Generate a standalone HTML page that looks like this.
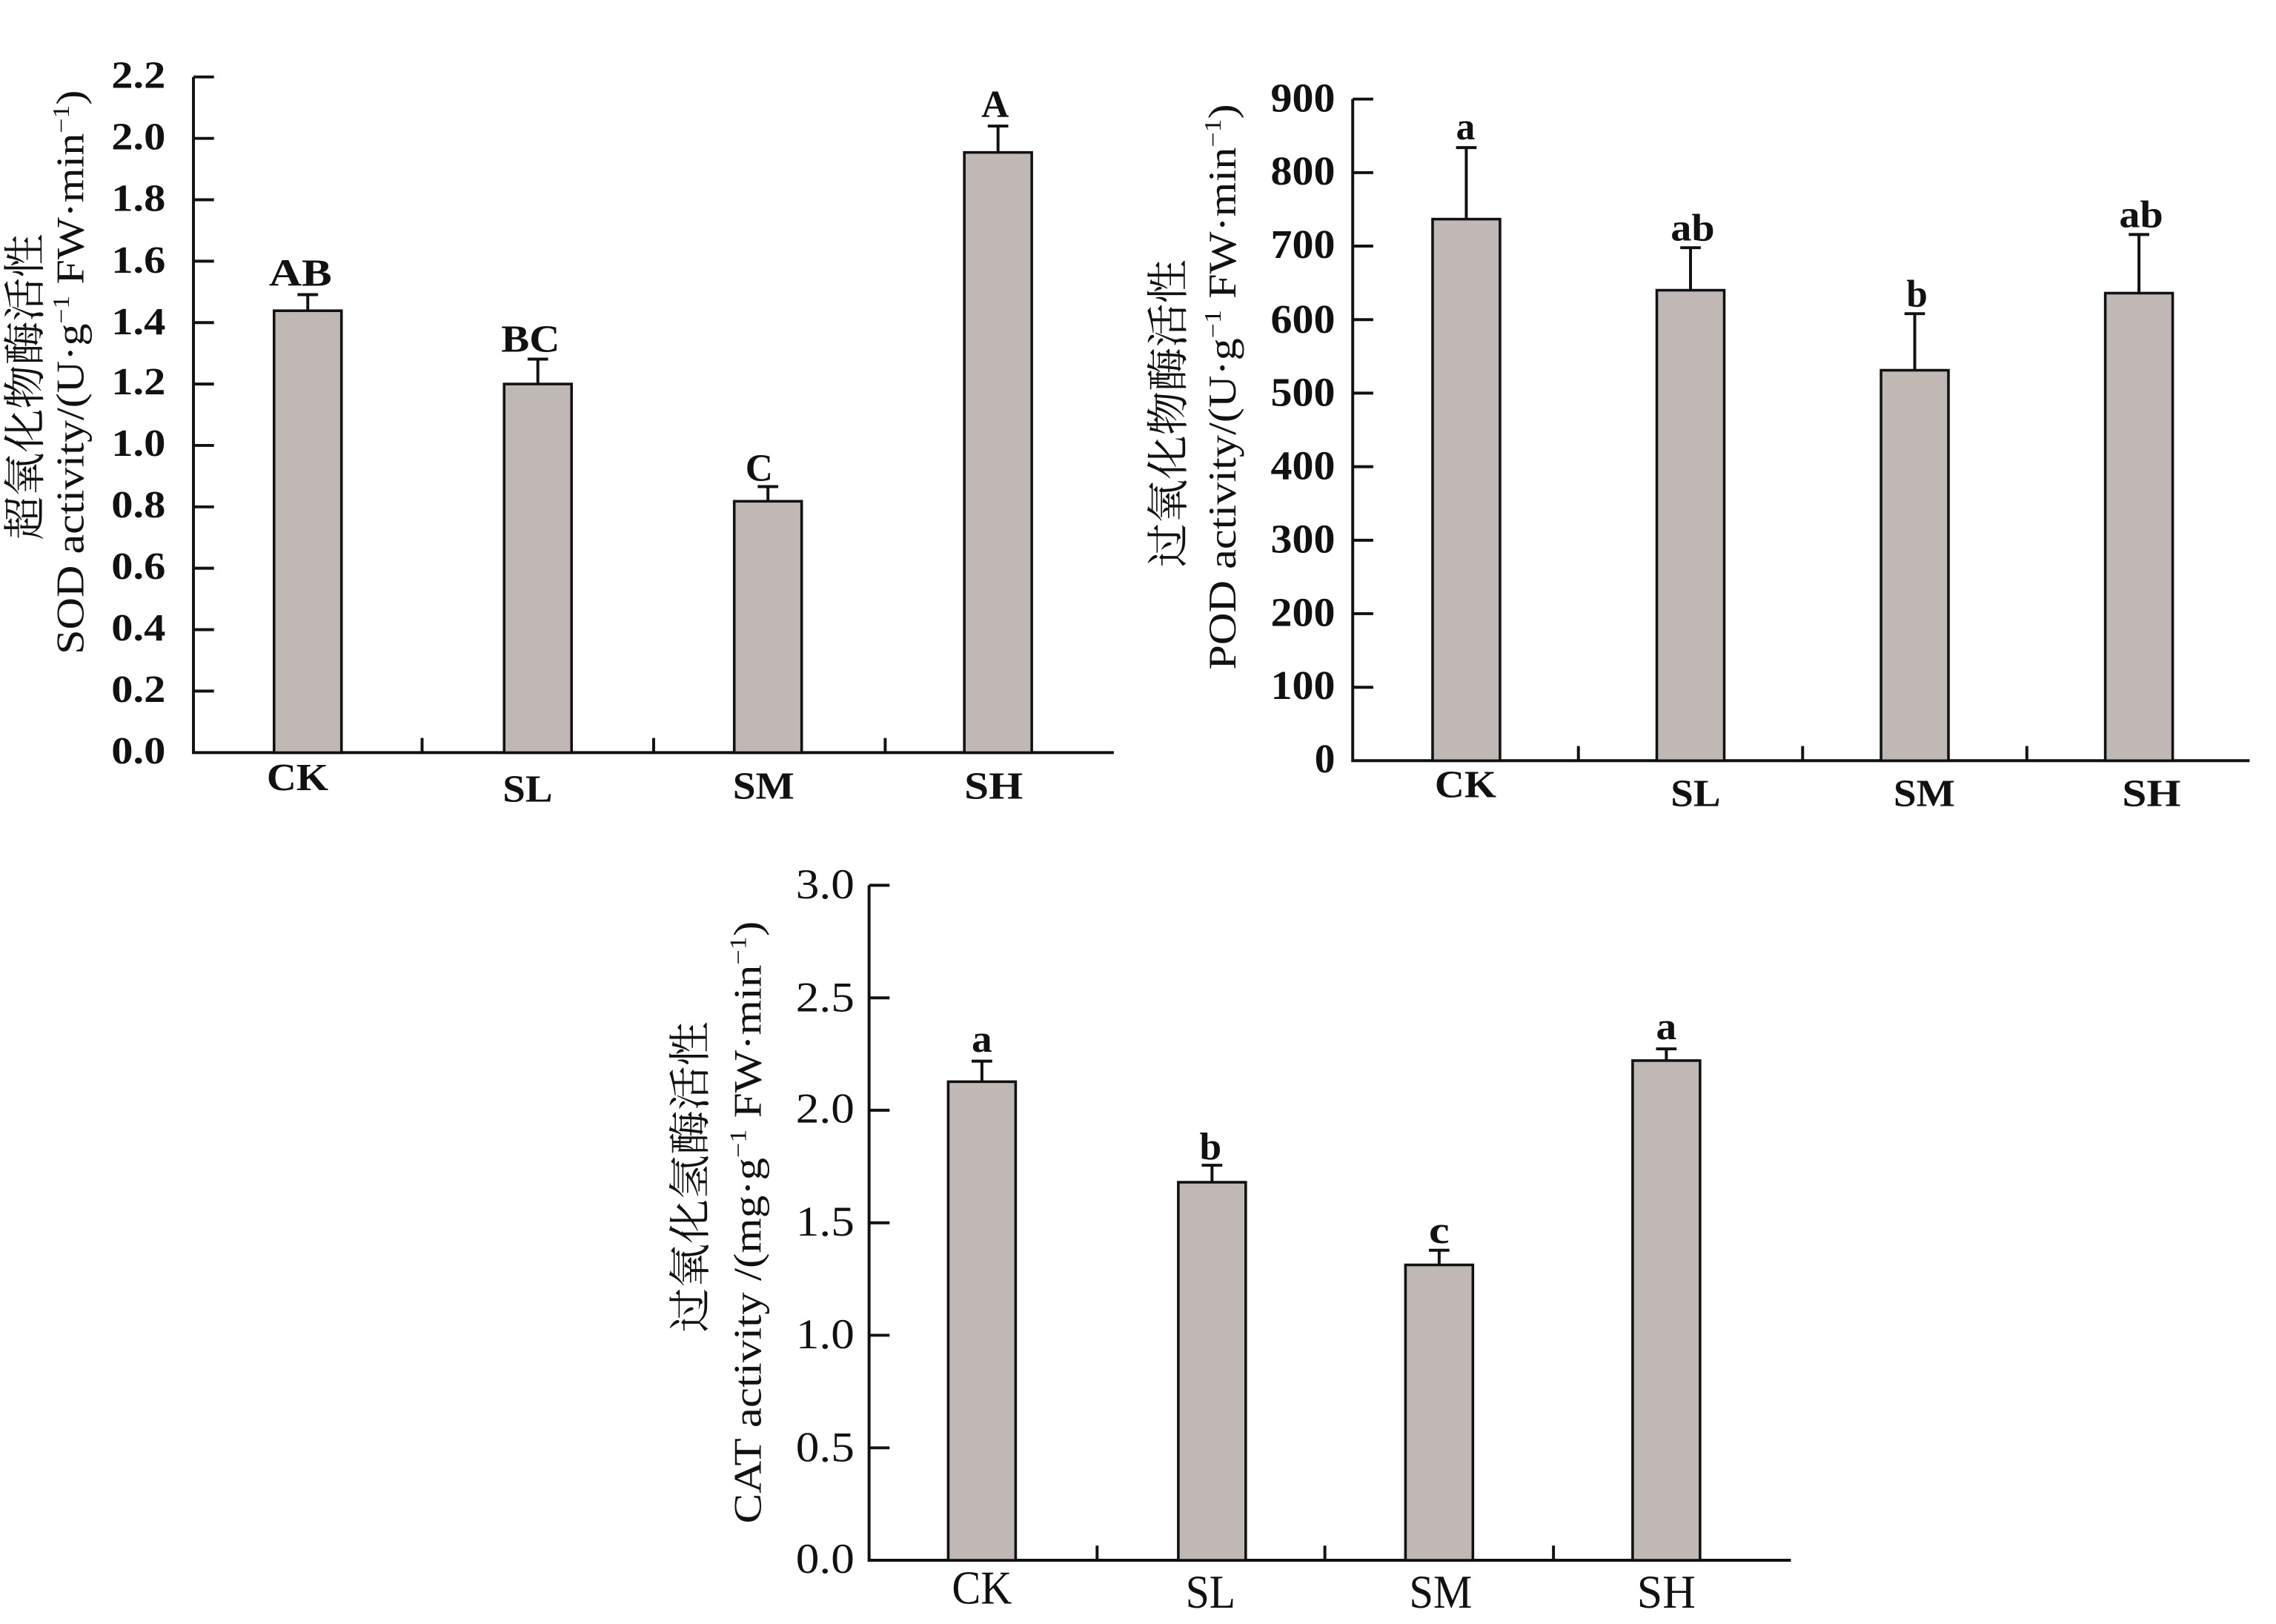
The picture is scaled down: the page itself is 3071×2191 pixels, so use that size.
<!DOCTYPE html>
<html><head><meta charset="utf-8"><style>
html,body{margin:0;padding:0;background:#fff;width:3071px;height:2191px;overflow:hidden}
svg{display:block}
.t{font-family:"Liberation Serif","Noto Serif CJK SC",serif;font-weight:bold;font-size:26px;fill:#111}
.n{font-family:"Liberation Serif","Noto Serif CJK SC",serif;font-weight:normal;font-size:29px;fill:#111}
.cj{font-family:"Noto Serif CJK SC","Liberation Serif",serif;font-size:29px;fill:#111}
.l{font-family:"Liberation Serif","Noto Serif CJK SC",serif;font-size:27px;fill:#111}
.ax{stroke:#111;stroke-width:2;fill:none}
.bar{fill:#c0b8b4;stroke:#111;stroke-width:1.8}
</style></head><body>
<svg width="3071" height="2191" viewBox="0 0 1553 1108" preserveAspectRatio="none">
<!-- Chart 1 SOD -->
<g>
<path class="ax" d="M132,52.5 V513.5 H760"/>
<g class="ax">
<path d="M132,52.5h14M132,94.4h14M132,136.3h14M132,178.2h14M132,220.1h14M132,262h14M132,303.9h14M132,345.8h14M132,387.7h14M132,429.6h14M132,471.5h14"/>
<path d="M210,513.5v-10M288,513.5v-10M367,513.5v-10M446,513.5v-10M524,513.5v-10M604,513.5v-10M681,513.5v-10"/>
</g>
<g class="t" text-anchor="end">
<text x="113" y="60" textLength="37" lengthAdjust="spacingAndGlyphs">2.2</text>
<text x="113" y="102" textLength="37" lengthAdjust="spacingAndGlyphs">2.0</text>
<text x="113" y="144" textLength="37" lengthAdjust="spacingAndGlyphs">1.8</text>
<text x="113" y="186" textLength="37" lengthAdjust="spacingAndGlyphs">1.6</text>
<text x="113" y="228" textLength="37" lengthAdjust="spacingAndGlyphs">1.4</text>
<text x="113" y="269" textLength="37" lengthAdjust="spacingAndGlyphs">1.2</text>
<text x="113" y="311" textLength="37" lengthAdjust="spacingAndGlyphs">1.0</text>
<text x="113" y="353" textLength="37" lengthAdjust="spacingAndGlyphs">0.8</text>
<text x="113" y="395" textLength="37" lengthAdjust="spacingAndGlyphs">0.6</text>
<text x="113" y="437" textLength="37" lengthAdjust="spacingAndGlyphs">0.4</text>
<text x="113" y="479" textLength="37" lengthAdjust="spacingAndGlyphs">0.2</text>
<text x="113" y="521" textLength="37" lengthAdjust="spacingAndGlyphs">0.0</text>
</g>
<rect class="bar" x="187" y="212" width="46" height="301.5"/>
<rect class="bar" x="344" y="262" width="46" height="251.5"/>
<rect class="bar" x="501" y="342" width="46" height="171.5"/>
<rect class="bar" x="658" y="104" width="46" height="409.5"/>
<g class="ax">
<path d="M210,212V201M203,201h14M367,262V245M360,245h14M524,342V332M517,332h14M681,104V86M674,86h14"/>
</g>
<g class="t" text-anchor="middle">
<text x="205" y="195" textLength="43" lengthAdjust="spacingAndGlyphs">AB</text>
<text x="362" y="240" textLength="40" lengthAdjust="spacingAndGlyphs">BC</text>
<text x="518" y="328">C</text>
<text x="679" y="80">A</text>
<text x="203" y="539" textLength="42" lengthAdjust="spacingAndGlyphs">CK</text>
<text x="360" y="547" textLength="34" lengthAdjust="spacingAndGlyphs">SL</text>
<text x="521" y="545" textLength="42" lengthAdjust="spacingAndGlyphs">SM</text>
<text x="678" y="545" textLength="40" lengthAdjust="spacingAndGlyphs">SH</text>
</g>
<text class="cj" transform="translate(27,264) rotate(-90)" text-anchor="middle" textLength="209" lengthAdjust="spacingAndGlyphs">超氧化物酶活性</text>
<text class="l" transform="translate(57,254) rotate(-90)" text-anchor="middle" textLength="385" lengthAdjust="spacingAndGlyphs">SOD activity/(U·g<tspan dy="-10" font-size="16">−1</tspan><tspan dy="10"> FW·min</tspan><tspan dy="-10" font-size="16">−1</tspan><tspan dy="10">)</tspan></text>
</g>
<!-- Chart 2 POD -->
<g>
<path class="ax" d="M923,67.6 V519 H1535"/>
<g class="ax">
<path d="M923,67.6h14M923,117.8h14M923,167.9h14M923,218.1h14M923,268.2h14M923,318.4h14M923,368.6h14M923,418.7h14M923,468.9h14"/>
<path d="M1000.5,519v-10M1077,519v-10M1153.5,519v-10M1230,519v-10M1306.5,519v-10M1383,519v-10M1459.5,519v-10"/>
</g>
<g class="t" text-anchor="end" style="font-size:28px">
<text x="911" y="76" textLength="44" lengthAdjust="spacingAndGlyphs">900</text>
<text x="911" y="126" textLength="44" lengthAdjust="spacingAndGlyphs">800</text>
<text x="911" y="176" textLength="44" lengthAdjust="spacingAndGlyphs">700</text>
<text x="911" y="227" textLength="44" lengthAdjust="spacingAndGlyphs">600</text>
<text x="911" y="277" textLength="44" lengthAdjust="spacingAndGlyphs">500</text>
<text x="911" y="327" textLength="44" lengthAdjust="spacingAndGlyphs">400</text>
<text x="911" y="377" textLength="44" lengthAdjust="spacingAndGlyphs">300</text>
<text x="911" y="427" textLength="44" lengthAdjust="spacingAndGlyphs">200</text>
<text x="911" y="477" textLength="44" lengthAdjust="spacingAndGlyphs">100</text>
<text x="911" y="527">0</text>
</g>
<rect class="bar" x="977.5" y="149.5" width="46" height="369.5"/>
<rect class="bar" x="1130.5" y="198" width="46" height="321"/>
<rect class="bar" x="1283.5" y="252.6" width="46" height="266.4"/>
<rect class="bar" x="1436.5" y="200" width="46" height="319"/>
<g class="ax">
<path d="M1000.5,149.5V100.7M993.5,100.7h14M1153.5,198V169M1146.5,169h14M1306.5,252.6V214M1299.5,214h14M1459.5,200V160M1452.5,160h14"/>
</g>
<g class="t" text-anchor="middle">
<text x="1000" y="95">a</text>
<text x="1155" y="164" textLength="30" lengthAdjust="spacingAndGlyphs">ab</text>
<text x="1308" y="209">b</text>
<text x="1461" y="155" textLength="30" lengthAdjust="spacingAndGlyphs">ab</text>
<text x="1000" y="544" textLength="42" lengthAdjust="spacingAndGlyphs">CK</text>
<text x="1157" y="550" textLength="34" lengthAdjust="spacingAndGlyphs">SL</text>
<text x="1313" y="550" textLength="42" lengthAdjust="spacingAndGlyphs">SM</text>
<text x="1468" y="550" textLength="40" lengthAdjust="spacingAndGlyphs">SH</text>
</g>
<text class="cj" transform="translate(807,282) rotate(-90)" text-anchor="middle" textLength="210" lengthAdjust="spacingAndGlyphs">过氧化物酶活性</text>
<text class="l" transform="translate(843,264) rotate(-90)" text-anchor="middle" textLength="386" lengthAdjust="spacingAndGlyphs">POD activity/(U·g<tspan dy="-10" font-size="16">−1</tspan><tspan dy="10"> FW·min</tspan><tspan dy="-10" font-size="16">−1</tspan><tspan dy="10">)</tspan></text>
</g>
<!-- Chart 3 CAT -->
<g>
<path class="ax" d="M593,604 V1064.5 H1222"/>
<g class="ax">
<path d="M593,604h14M593,680.8h14M593,757.5h14M593,834.3h14M593,911h14M593,987.8h14"/>
<path d="M670,1064.5v-10M748.6,1064.5v-10M827,1064.5v-10M904,1064.5v-10M982,1064.5v-10M1060,1064.5v-10M1137,1064.5v-10"/>
</g>
<g class="n" text-anchor="end">
<text x="583" y="613" textLength="40" lengthAdjust="spacingAndGlyphs">3.0</text>
<text x="583" y="690" textLength="40" lengthAdjust="spacingAndGlyphs">2.5</text>
<text x="583" y="766" textLength="40" lengthAdjust="spacingAndGlyphs">2.0</text>
<text x="583" y="843" textLength="40" lengthAdjust="spacingAndGlyphs">1.5</text>
<text x="583" y="920" textLength="40" lengthAdjust="spacingAndGlyphs">1.0</text>
<text x="583" y="997" textLength="40" lengthAdjust="spacingAndGlyphs">0.5</text>
<text x="583" y="1073" textLength="40" lengthAdjust="spacingAndGlyphs">0.0</text>
</g>
<rect class="bar" x="647" y="738" width="46" height="326.5"/>
<rect class="bar" x="804" y="806.6" width="46" height="257.9"/>
<rect class="bar" x="959" y="863" width="46" height="201.5"/>
<rect class="bar" x="1114" y="723.6" width="46" height="340.9"/>
<g class="ax">
<path d="M670,738V724M663,724h14M827,806.6V795M820,795h14M982,863V853M975,853h14M1137,723.6V715.6M1130,715.6h14"/>
</g>
<g class="t" text-anchor="middle">
<text x="670" y="717.6" textLength="14" lengthAdjust="spacingAndGlyphs">a</text>
<text x="826" y="791" textLength="15" lengthAdjust="spacingAndGlyphs">b</text>
<text x="982" y="848" textLength="14" lengthAdjust="spacingAndGlyphs">c</text>
<text x="1137" y="709" textLength="14" lengthAdjust="spacingAndGlyphs">a</text>
</g>
<g class="n" text-anchor="middle" style="font-size:32px">
<text x="670" y="1094" textLength="41" lengthAdjust="spacingAndGlyphs">CK</text>
<text x="826" y="1097" textLength="34" lengthAdjust="spacingAndGlyphs">SL</text>
<text x="983" y="1097" textLength="43" lengthAdjust="spacingAndGlyphs">SM</text>
<text x="1137" y="1097" textLength="40" lengthAdjust="spacingAndGlyphs">SH</text>
</g>
<text class="cj" transform="translate(481,803) rotate(-90)" text-anchor="middle" textLength="212" lengthAdjust="spacingAndGlyphs">过氧化氢酶活性</text>
<text class="l" transform="translate(519,834) rotate(-90)" text-anchor="middle" textLength="411" lengthAdjust="spacingAndGlyphs">CAT activity /(mg·g<tspan dy="-10" font-size="16">−1</tspan><tspan dy="10"> FW·min</tspan><tspan dy="-10" font-size="16">−1</tspan><tspan dy="10">)</tspan></text>
</g>
</svg>
</body></html>
